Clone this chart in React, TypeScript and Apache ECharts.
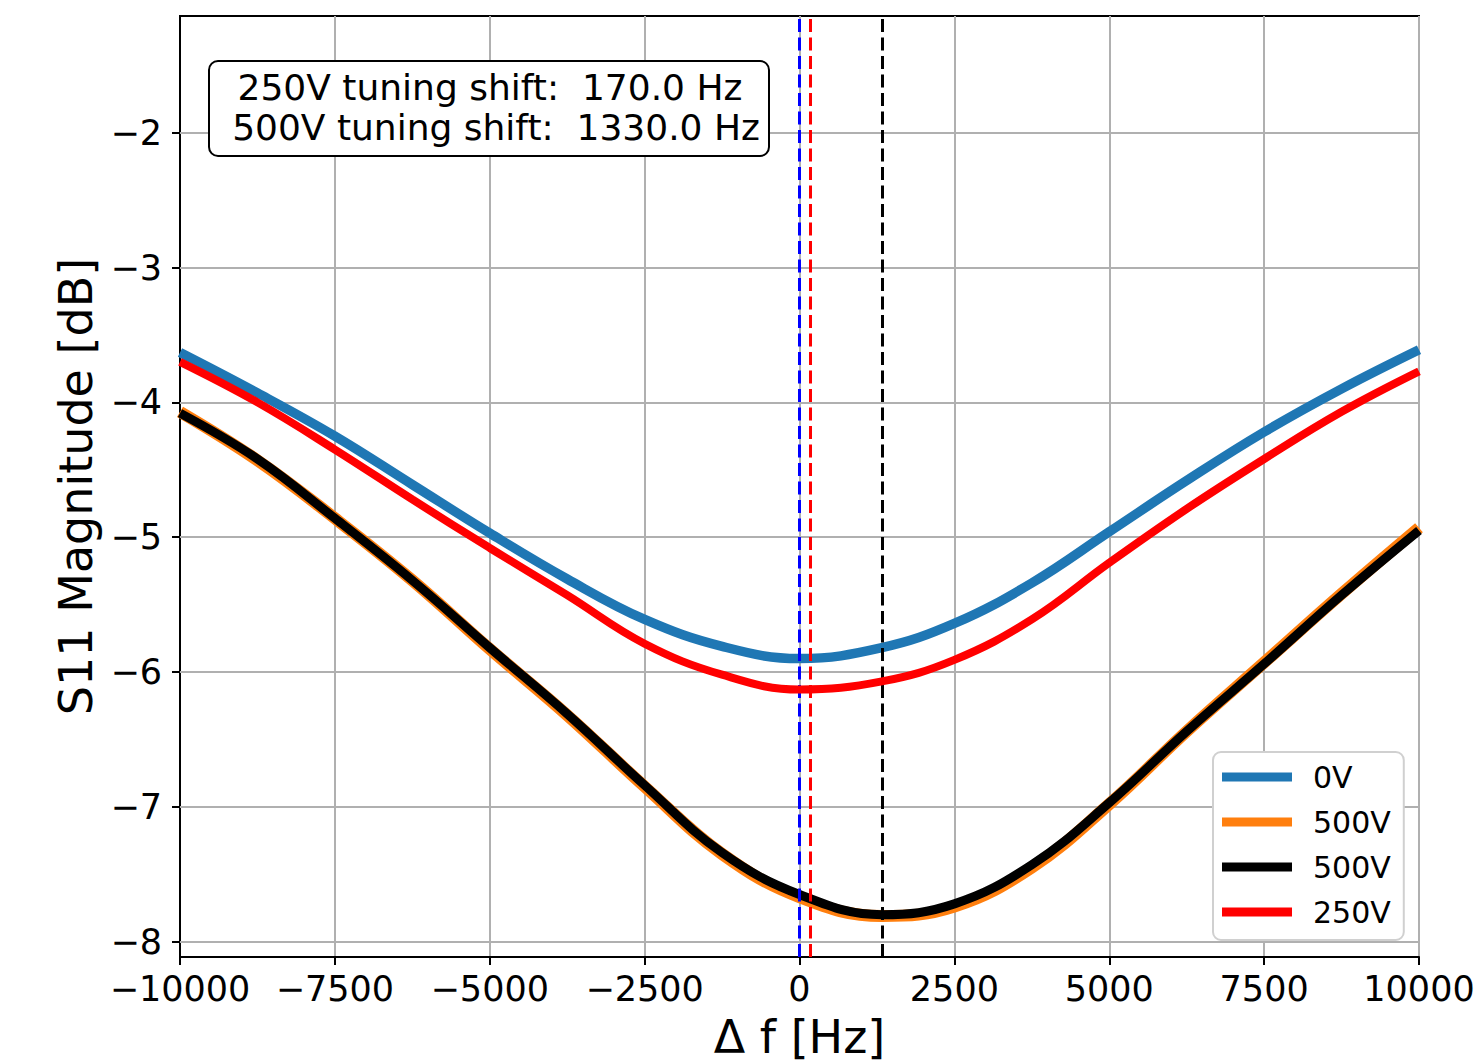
import React, { useEffect, useRef } from 'react';
import * as echarts from 'echarts';

// Frequency offsets (Hz) at which curve values were read
const freqHz = [-10000, -8750, -7500, -6250, -5000, -3750, -2500, -1250, 0, 1330, 2500, 3750, 5000, 6250, 7500, 8750, 10000];

// S11 magnitude (dB)
const s11_0V = [-3.63, -3.93, -4.25, -4.61, -4.97, -5.31, -5.61, -5.81, -5.90, -5.82, -5.64, -5.34, -4.96, -4.58, -4.22, -3.90, -3.61];
const s11_500V_a = [-4.07, -4.43, -4.86, -5.32, -5.83, -6.32, -6.85, -7.35, -7.67, -7.81, -7.74, -7.45, -6.98, -6.44, -5.93, -5.42, -4.93];
const s11_500V_b = [-4.08, -4.42, -4.86, -5.32, -5.82, -6.31, -6.84, -7.34, -7.65, -7.80, -7.72, -7.43, -6.97, -6.44, -5.94, -5.43, -4.95];
const s11_250V = [-3.70, -4.00, -4.35, -4.72, -5.08, -5.43, -5.79, -6.02, -6.13, -6.07, -5.91, -5.61, -5.19, -4.79, -4.42, -4.07, -3.77];

// Resonance markers (Hz)
const res0V = 0;
const shift250V = 170.0;
const shift500V = 1330.0;

// Axis ticks
const yTicks = [-8, -7, -6, -5, -4, -3, -2];
const yMin = -8.114;
const yMax = -1.134;
const xMin = -10000;
const xMax = 10000;
const xInterval = 2500;

const legendLabels: Record<string, string> = { s0: '0V', s500a: '500V', s500b: '500V', s250: '250V' };

const FONT = 'DejaVu Sans';
const minus = (v: number) => (v < 0 ? '\u2212' + Math.abs(v) : String(v));

export default function App() {
  const ref = useRef<HTMLDivElement>(null);
  useEffect(() => {
    if (!ref.current) return;
    const chart = echarts.init(ref.current, undefined, { renderer: 'svg' });
    const pairs = (ys: number[]) => freqHz.map((x, i) => [x, ys[i]]);
    const vline = (x: number, color: string) => ({
      silent: true,
      symbol: ['none', 'none'],
      label: { show: false },
      lineStyle: { color, width: 3, type: [13, 5.5], opacity: 1 },
      emphasis: { disabled: true },
      data: [{ xAxis: x }],
    });
    chart.setOption({
      animation: false,
      grid: { left: 180, right: 62, top: 16, bottom: 106, show: true, borderColor: '#000', borderWidth: 2, backgroundColor: 'transparent', outerBoundsMode: 'none', containLabel: false },
      xAxis: {
        type: 'value', min: xMin, max: xMax, interval: xInterval,
        name: 'Δ f [Hz]', nameLocation: 'middle', nameGap: 57,
        nameTextStyle: { fontSize: 46, fontFamily: FONT, color: '#000' },
        axisLine: { show: true, onZero: false, lineStyle: { color: '#000', width: 2 } },
        axisTick: { show: true, length: 8, lineStyle: { color: '#000', width: 2 } },
        axisLabel: { fontSize: 35, fontFamily: FONT, color: '#000', margin: 14, formatter: (v: number) => minus(v) },
        splitLine: { show: true, lineStyle: { color: '#b0b0b0', width: 2 } },
      },
      yAxis: {
        type: 'value', min: yMin, max: yMax,
        name: 'S11 Magnitude [dB]', nameLocation: 'middle', nameGap: 81, nameRotate: 90,
        nameTextStyle: { fontSize: 46, fontFamily: FONT, color: '#000' },
        axisLine: { show: true, onZero: false, lineStyle: { color: '#000', width: 2 } },
        axisTick: { show: true, length: 8, customValues: yTicks, lineStyle: { color: '#000', width: 2 } },
        axisLabel: { fontSize: 35, fontFamily: FONT, color: '#000', margin: 18, customValues: yTicks, formatter: (v: number) => minus(v) },
        splitLine: { show: false },
      },
      legend: {
        orient: 'vertical', left: 1213, top: 752,
        padding: [10, 13, 13, 9],
        itemWidth: 70, itemHeight: 9, itemGap: 15,
        backgroundColor: '#fff', borderColor: '#d0d0d0', borderWidth: 2, borderRadius: 8,
        textStyle: { fontSize: 30, lineHeight: 30, fontFamily: FONT, color: '#000', padding: [0, 0, 0, 16] },
        formatter: (n: string) => legendLabels[n],
        data: [
          { name: 's0', icon: 'rect' },
          { name: 's500a', icon: 'rect' },
          { name: 's500b', icon: 'rect' },
          { name: 's250', icon: 'rect' },
        ],
      },
      graphic: [
        { type: 'rect', z: 100, shape: { x: 209, y: 61, width: 560, height: 95, r: 9 }, style: { fill: '#fff', stroke: '#000', lineWidth: 2 } },
        { type: 'text', z: 101, x: 490, y: 87, style: { text: `250V tuning shift:  ${shift250V.toFixed(1)} Hz`, font: `36px "${FONT}"`, fill: '#000', textAlign: 'center', textVerticalAlign: 'middle' } },
        { type: 'text', z: 101, x: 496, y: 127, style: { text: `500V tuning shift:  ${shift500V.toFixed(1)} Hz`, font: `36px "${FONT}"`, fill: '#000', textAlign: 'center', textVerticalAlign: 'middle' } },
      ],
      series: [
        {
          name: 'grid', type: 'line', data: [], silent: true, z: 1,
          markLine: {
            silent: true, z: 1, symbol: ['none', 'none'], label: { show: false },
            lineStyle: { color: '#b0b0b0', width: 2, type: 'solid' },
            data: yTicks.map((v) => ({ yAxis: v })),
          },
        },
        {
          name: 's0', type: 'line', data: pairs(s11_0V), smooth: 0.4, symbol: 'none', z: 2,
          color: '#1f77b4', lineStyle: { width: 9.5, color: '#1f77b4' },
          markLine: vline(res0V, '#0000ff'),
        },
        {
          name: 's500a', type: 'line', data: pairs(s11_500V_a), smooth: 0.4, symbol: 'none', z: 3,
          color: '#ff7f0e', lineStyle: { width: 12, color: '#ff7f0e' },
        },
        {
          name: 's500b', type: 'line', data: pairs(s11_500V_b), smooth: 0.4, symbol: 'none', z: 4,
          color: '#000000', lineStyle: { width: 9, color: '#000000' },
          markLine: vline(shift500V, '#000000'),
        },
        {
          name: 's250', type: 'line', data: pairs(s11_250V), smooth: 0.4, symbol: 'none', z: 5,
          color: '#ff0000', lineStyle: { width: 8, color: '#ff0000' },
          markLine: vline(shift250V, '#ff0000'),
        },
      ],
    });
    return () => chart.dispose();
  }, []);
  return <div ref={ref} style={{ position: 'absolute', left: 0, top: 0, width: 1481, height: 1063, background: '#fff' }} />;
}
